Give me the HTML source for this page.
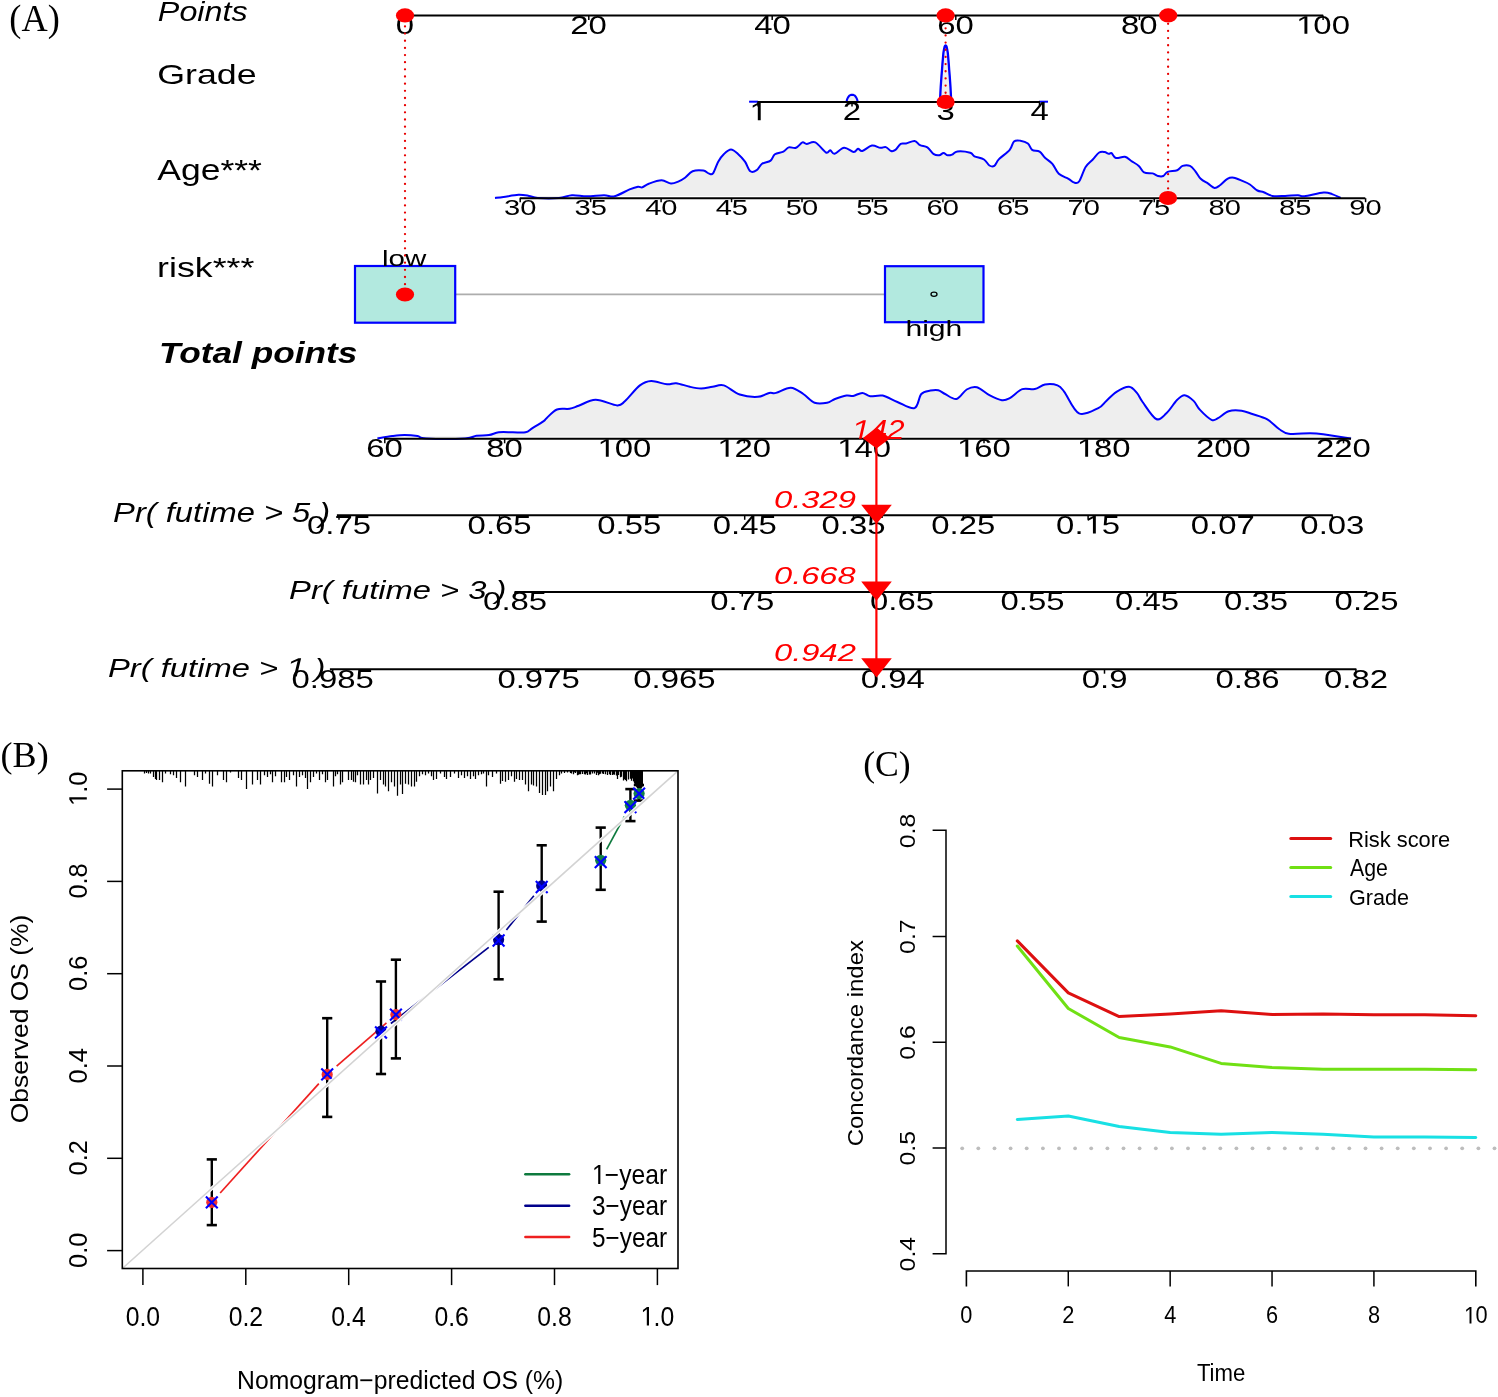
<!DOCTYPE html>
<html><head><meta charset="utf-8"><title>Nomogram figure</title>
<style>html,body{margin:0;padding:0;background:#fff;overflow:hidden;}svg{display:block;will-change:transform;}</style></head>
<body><svg width="1498" height="1397" viewBox="0 0 1498 1397">
<rect width="1498" height="1397" fill="#fff"/>
<text transform="translate(9.37 30.60) scale(0.9804 1)" font-family='"Liberation Serif", serif' font-size="37.03" font-style="normal" font-weight="normal" fill="#000">(A)</text>
<text transform="translate(157.83 21.00) scale(1.1577 1)" font-family='"Liberation Sans", sans-serif' font-size="27.91" font-style="italic" font-weight="normal" fill="#000">Points</text>
<text transform="translate(157.21 84.20) scale(1.2658 1)" font-family='"Liberation Sans", sans-serif' font-size="28.28" font-style="normal" font-weight="normal" fill="#000">Grade</text>
<text transform="translate(157.31 180.40) scale(1.1981 1)" font-family='"Liberation Sans", sans-serif' font-size="29.65" font-style="normal" font-weight="normal" fill="#000">Age***</text>
<text transform="translate(157.09 276.60) scale(1.2707 1)" font-family='"Liberation Sans", sans-serif' font-size="28.14" font-style="normal" font-weight="normal" fill="#000">risk***</text>
<text transform="translate(159.03 362.60) scale(1.2172 1)" font-family='"Liberation Sans", sans-serif' font-size="28.97" font-style="italic" font-weight="bold" fill="#000">Total points</text>
<text transform="translate(113.12 522.20) scale(1.2234 1)" font-family='"Liberation Sans", sans-serif' font-size="26.74" font-style="italic" font-weight="normal" fill="#000">Pr( futime &gt; 5 )</text>
<text transform="translate(289.12 599.40) scale(1.2379 1)" font-family='"Liberation Sans", sans-serif' font-size="26.45" font-style="italic" font-weight="normal" fill="#000">Pr( futime &gt; 3 )</text>
<text transform="translate(108.02 676.50) scale(1.2379 1)" font-family='"Liberation Sans", sans-serif' font-size="26.45" font-style="italic" font-weight="normal" fill="#000">Pr( futime &gt;   )</text>
<path transform="translate(108.02 676.50) scale(1.2379 1) translate(144.80 0) scale(0.01292 -0.01292)" d="M412 0L650 1223L215 985L250 1165L701 1409L867 1409L593 0Z" fill="#000"/>
<path d="M495.00 198.00C496.42 197.83 499.58 197.53 503.50 197.00C507.42 196.47 514.25 194.98 518.50 194.80C522.75 194.62 525.80 195.37 529.00 195.90C532.20 196.43 532.70 197.65 537.70 198.00C542.70 198.35 553.28 198.47 559.00 198.00C564.72 197.53 567.33 195.48 572.00 195.20C576.67 194.92 581.67 196.30 587.00 196.30C592.33 196.30 599.40 195.20 604.00 195.20C608.60 195.20 610.33 197.27 614.60 196.30C618.87 195.33 625.70 191.00 629.60 189.40C633.50 187.80 635.87 187.05 638.00 186.70C640.13 186.35 640.60 187.80 642.40 187.30C644.20 186.80 645.60 184.87 648.80 183.70C652.00 182.53 657.90 180.33 661.60 180.30C665.30 180.27 668.15 183.33 671.00 183.50C673.85 183.67 676.37 182.27 678.70 181.30C681.03 180.33 682.68 179.37 685.00 177.70C687.32 176.03 689.55 172.48 692.60 171.30C695.65 170.12 700.63 170.25 703.30 170.60C705.97 170.95 706.98 172.93 708.60 173.40C710.22 173.87 711.40 175.35 713.00 173.40C714.60 171.45 716.37 164.93 718.20 161.70C720.03 158.47 721.87 156.03 724.00 154.00C726.13 151.97 728.67 149.50 731.00 149.50C733.33 149.50 735.67 151.97 738.00 154.00C740.33 156.03 742.95 158.82 745.00 161.70C747.05 164.58 748.35 169.88 750.30 171.30C752.25 172.72 754.75 171.45 756.70 170.20C758.65 168.95 759.68 165.40 762.00 163.80C764.32 162.20 768.45 162.20 770.60 160.60C772.75 159.00 772.77 155.70 774.90 154.20C777.03 152.70 781.08 152.73 783.40 151.60C785.72 150.47 786.70 148.03 788.80 147.40C790.90 146.77 793.73 148.63 796.00 147.80C798.27 146.97 800.62 143.05 802.40 142.40C804.18 141.75 804.55 143.90 806.70 143.90C808.85 143.90 812.08 140.97 815.30 142.40C818.52 143.83 823.52 151.18 826.00 152.50C828.48 153.82 828.78 150.08 830.20 150.30C831.62 150.52 832.18 154.22 834.50 153.80C836.82 153.38 840.90 148.10 844.10 147.80C847.30 147.50 851.38 151.83 853.70 152.00C856.02 152.17 856.57 148.97 858.00 148.80C859.43 148.63 859.98 151.53 862.30 151.00C864.62 150.47 868.88 146.13 871.90 145.60C874.92 145.07 878.08 147.55 880.40 147.80C882.72 148.05 884.02 146.57 885.80 147.10C887.58 147.63 889.50 150.53 891.10 151.00C892.70 151.47 893.80 151.08 895.40 149.90C897.00 148.72 898.93 144.97 900.70 143.90C902.47 142.83 903.68 144.00 906.00 143.50C908.32 143.00 912.27 140.62 914.60 140.90C916.93 141.18 917.87 144.12 920.00 145.20C922.13 146.28 925.10 145.90 927.40 147.40C929.70 148.90 931.83 152.88 933.80 154.20C935.77 155.52 937.58 155.48 939.20 155.30C940.82 155.12 942.08 153.10 943.50 153.10C944.92 153.10 946.28 155.05 947.70 155.30C949.12 155.55 950.38 155.25 952.00 154.60C953.62 153.95 954.37 151.72 957.40 151.40C960.43 151.08 967.37 151.88 970.20 152.70C973.03 153.52 972.10 155.17 974.40 156.30C976.70 157.43 981.50 157.97 984.00 159.50C986.50 161.03 987.68 164.43 989.40 165.50C991.12 166.57 992.70 166.97 994.30 165.90C995.90 164.83 996.43 161.77 999.00 159.10C1001.57 156.43 1007.20 152.85 1009.70 149.90C1012.20 146.95 1012.22 142.93 1014.00 141.40C1015.78 139.87 1018.08 140.35 1020.40 140.70C1022.72 141.05 1025.95 141.97 1027.90 143.50C1029.85 145.03 1030.15 148.55 1032.10 149.90C1034.05 151.25 1037.45 150.28 1039.60 151.60C1041.75 152.92 1042.87 155.77 1045.00 157.80C1047.13 159.83 1050.10 161.13 1052.40 163.80C1054.70 166.47 1056.12 171.30 1058.80 173.80C1061.48 176.30 1066.00 177.37 1068.50 178.80C1071.00 180.23 1072.03 181.95 1073.80 182.40C1075.57 182.85 1077.13 184.07 1079.10 181.50C1081.07 178.93 1083.32 170.67 1085.60 167.00C1087.88 163.33 1090.53 161.92 1092.80 159.50C1095.07 157.08 1097.23 153.75 1099.20 152.50C1101.17 151.25 1103.00 151.78 1104.60 152.00C1106.20 152.22 1107.63 153.62 1108.80 153.80C1109.97 153.98 1110.42 152.40 1111.60 153.10C1112.78 153.80 1113.68 157.38 1115.90 158.00C1118.12 158.62 1122.33 156.30 1124.90 156.80C1127.47 157.30 1128.98 159.48 1131.30 161.00C1133.62 162.52 1136.67 164.00 1138.80 165.90C1140.93 167.80 1141.80 171.15 1144.10 172.40C1146.40 173.65 1150.28 172.80 1152.60 173.40C1154.92 174.00 1156.22 175.57 1158.00 176.00C1159.78 176.43 1161.70 176.68 1163.30 176.00C1164.90 175.32 1165.28 172.87 1167.60 171.90C1169.92 170.93 1174.70 171.20 1177.20 170.20C1179.70 169.20 1180.47 166.62 1182.60 165.90C1184.73 165.18 1187.87 165.00 1190.00 165.90C1192.13 166.80 1193.62 169.15 1195.40 171.30C1197.18 173.45 1198.57 176.73 1200.70 178.80C1202.83 180.87 1205.88 182.18 1208.20 183.70C1210.52 185.22 1212.63 187.65 1214.60 187.90C1216.57 188.15 1217.87 186.72 1220.00 185.20C1222.13 183.68 1225.10 180.05 1227.40 178.80C1229.70 177.55 1231.30 177.35 1233.80 177.70C1236.30 178.05 1239.72 179.77 1242.40 180.90C1245.08 182.03 1247.40 182.90 1249.90 184.50C1252.40 186.10 1255.08 189.22 1257.40 190.50C1259.72 191.78 1261.32 191.30 1263.80 192.20C1266.28 193.10 1268.75 195.28 1272.30 195.90C1275.85 196.52 1280.82 196.02 1285.10 195.90C1289.38 195.78 1294.78 195.13 1298.00 195.20C1301.22 195.27 1300.13 196.73 1304.40 196.30C1308.67 195.87 1318.98 192.97 1323.60 192.60C1328.22 192.23 1329.25 193.20 1332.10 194.10C1334.95 195.00 1339.27 197.35 1340.70 198.00 L1340.70 196.00 L495.00 196.00 Z" fill="#eeeeee" stroke="none"/>
<path d="M495.00 198.00C496.42 197.83 499.58 197.53 503.50 197.00C507.42 196.47 514.25 194.98 518.50 194.80C522.75 194.62 525.80 195.37 529.00 195.90C532.20 196.43 532.70 197.65 537.70 198.00C542.70 198.35 553.28 198.47 559.00 198.00C564.72 197.53 567.33 195.48 572.00 195.20C576.67 194.92 581.67 196.30 587.00 196.30C592.33 196.30 599.40 195.20 604.00 195.20C608.60 195.20 610.33 197.27 614.60 196.30C618.87 195.33 625.70 191.00 629.60 189.40C633.50 187.80 635.87 187.05 638.00 186.70C640.13 186.35 640.60 187.80 642.40 187.30C644.20 186.80 645.60 184.87 648.80 183.70C652.00 182.53 657.90 180.33 661.60 180.30C665.30 180.27 668.15 183.33 671.00 183.50C673.85 183.67 676.37 182.27 678.70 181.30C681.03 180.33 682.68 179.37 685.00 177.70C687.32 176.03 689.55 172.48 692.60 171.30C695.65 170.12 700.63 170.25 703.30 170.60C705.97 170.95 706.98 172.93 708.60 173.40C710.22 173.87 711.40 175.35 713.00 173.40C714.60 171.45 716.37 164.93 718.20 161.70C720.03 158.47 721.87 156.03 724.00 154.00C726.13 151.97 728.67 149.50 731.00 149.50C733.33 149.50 735.67 151.97 738.00 154.00C740.33 156.03 742.95 158.82 745.00 161.70C747.05 164.58 748.35 169.88 750.30 171.30C752.25 172.72 754.75 171.45 756.70 170.20C758.65 168.95 759.68 165.40 762.00 163.80C764.32 162.20 768.45 162.20 770.60 160.60C772.75 159.00 772.77 155.70 774.90 154.20C777.03 152.70 781.08 152.73 783.40 151.60C785.72 150.47 786.70 148.03 788.80 147.40C790.90 146.77 793.73 148.63 796.00 147.80C798.27 146.97 800.62 143.05 802.40 142.40C804.18 141.75 804.55 143.90 806.70 143.90C808.85 143.90 812.08 140.97 815.30 142.40C818.52 143.83 823.52 151.18 826.00 152.50C828.48 153.82 828.78 150.08 830.20 150.30C831.62 150.52 832.18 154.22 834.50 153.80C836.82 153.38 840.90 148.10 844.10 147.80C847.30 147.50 851.38 151.83 853.70 152.00C856.02 152.17 856.57 148.97 858.00 148.80C859.43 148.63 859.98 151.53 862.30 151.00C864.62 150.47 868.88 146.13 871.90 145.60C874.92 145.07 878.08 147.55 880.40 147.80C882.72 148.05 884.02 146.57 885.80 147.10C887.58 147.63 889.50 150.53 891.10 151.00C892.70 151.47 893.80 151.08 895.40 149.90C897.00 148.72 898.93 144.97 900.70 143.90C902.47 142.83 903.68 144.00 906.00 143.50C908.32 143.00 912.27 140.62 914.60 140.90C916.93 141.18 917.87 144.12 920.00 145.20C922.13 146.28 925.10 145.90 927.40 147.40C929.70 148.90 931.83 152.88 933.80 154.20C935.77 155.52 937.58 155.48 939.20 155.30C940.82 155.12 942.08 153.10 943.50 153.10C944.92 153.10 946.28 155.05 947.70 155.30C949.12 155.55 950.38 155.25 952.00 154.60C953.62 153.95 954.37 151.72 957.40 151.40C960.43 151.08 967.37 151.88 970.20 152.70C973.03 153.52 972.10 155.17 974.40 156.30C976.70 157.43 981.50 157.97 984.00 159.50C986.50 161.03 987.68 164.43 989.40 165.50C991.12 166.57 992.70 166.97 994.30 165.90C995.90 164.83 996.43 161.77 999.00 159.10C1001.57 156.43 1007.20 152.85 1009.70 149.90C1012.20 146.95 1012.22 142.93 1014.00 141.40C1015.78 139.87 1018.08 140.35 1020.40 140.70C1022.72 141.05 1025.95 141.97 1027.90 143.50C1029.85 145.03 1030.15 148.55 1032.10 149.90C1034.05 151.25 1037.45 150.28 1039.60 151.60C1041.75 152.92 1042.87 155.77 1045.00 157.80C1047.13 159.83 1050.10 161.13 1052.40 163.80C1054.70 166.47 1056.12 171.30 1058.80 173.80C1061.48 176.30 1066.00 177.37 1068.50 178.80C1071.00 180.23 1072.03 181.95 1073.80 182.40C1075.57 182.85 1077.13 184.07 1079.10 181.50C1081.07 178.93 1083.32 170.67 1085.60 167.00C1087.88 163.33 1090.53 161.92 1092.80 159.50C1095.07 157.08 1097.23 153.75 1099.20 152.50C1101.17 151.25 1103.00 151.78 1104.60 152.00C1106.20 152.22 1107.63 153.62 1108.80 153.80C1109.97 153.98 1110.42 152.40 1111.60 153.10C1112.78 153.80 1113.68 157.38 1115.90 158.00C1118.12 158.62 1122.33 156.30 1124.90 156.80C1127.47 157.30 1128.98 159.48 1131.30 161.00C1133.62 162.52 1136.67 164.00 1138.80 165.90C1140.93 167.80 1141.80 171.15 1144.10 172.40C1146.40 173.65 1150.28 172.80 1152.60 173.40C1154.92 174.00 1156.22 175.57 1158.00 176.00C1159.78 176.43 1161.70 176.68 1163.30 176.00C1164.90 175.32 1165.28 172.87 1167.60 171.90C1169.92 170.93 1174.70 171.20 1177.20 170.20C1179.70 169.20 1180.47 166.62 1182.60 165.90C1184.73 165.18 1187.87 165.00 1190.00 165.90C1192.13 166.80 1193.62 169.15 1195.40 171.30C1197.18 173.45 1198.57 176.73 1200.70 178.80C1202.83 180.87 1205.88 182.18 1208.20 183.70C1210.52 185.22 1212.63 187.65 1214.60 187.90C1216.57 188.15 1217.87 186.72 1220.00 185.20C1222.13 183.68 1225.10 180.05 1227.40 178.80C1229.70 177.55 1231.30 177.35 1233.80 177.70C1236.30 178.05 1239.72 179.77 1242.40 180.90C1245.08 182.03 1247.40 182.90 1249.90 184.50C1252.40 186.10 1255.08 189.22 1257.40 190.50C1259.72 191.78 1261.32 191.30 1263.80 192.20C1266.28 193.10 1268.75 195.28 1272.30 195.90C1275.85 196.52 1280.82 196.02 1285.10 195.90C1289.38 195.78 1294.78 195.13 1298.00 195.20C1301.22 195.27 1300.13 196.73 1304.40 196.30C1308.67 195.87 1318.98 192.97 1323.60 192.60C1328.22 192.23 1329.25 193.20 1332.10 194.10C1334.95 195.00 1339.27 197.35 1340.70 198.00" fill="none" stroke="#0000ff" stroke-width="2.0" stroke-linejoin="round"/>
<path d="M377.40 438.50C379.88 438.08 387.78 436.60 392.30 436.00C396.82 435.40 400.30 434.90 404.50 434.90C408.70 434.90 413.92 435.40 417.50 436.00C421.08 436.60 418.05 438.08 426.00 438.50C433.95 438.92 456.80 438.97 465.20 438.50C473.60 438.03 472.43 436.27 476.40 435.70C480.37 435.13 485.27 435.67 489.00 435.10C492.73 434.53 494.82 432.77 498.80 432.30C502.78 431.83 508.45 432.30 512.90 432.30C517.35 432.30 522.23 433.00 525.50 432.30C528.77 431.60 529.47 429.97 532.50 428.10C535.53 426.23 541.32 422.80 543.70 421.10C546.08 419.40 544.58 419.83 546.80 417.90C549.02 415.97 553.22 411.02 557.00 409.50C560.78 407.98 565.90 409.42 569.50 408.80C573.10 408.18 574.25 407.32 578.60 405.80C582.95 404.28 589.17 399.77 595.60 399.70C602.03 399.63 612.28 405.20 617.20 405.40C622.12 405.60 621.32 404.23 625.10 400.90C628.88 397.57 635.55 388.70 639.90 385.40C644.25 382.10 646.67 381.28 651.20 381.10C655.73 380.92 662.93 383.95 667.10 384.30C671.27 384.65 672.42 382.78 676.20 383.20C679.98 383.62 685.65 385.93 689.80 386.80C693.95 387.67 697.32 388.40 701.10 388.40C704.88 388.40 708.72 387.30 712.50 386.80C716.28 386.30 719.27 384.12 723.80 385.40C728.33 386.68 734.02 392.60 739.70 394.50C745.38 396.40 752.98 397.07 757.90 396.80C762.82 396.53 766.18 393.55 769.20 392.90C772.22 392.25 772.40 393.77 776.00 392.90C779.60 392.03 786.25 387.52 790.80 387.70C795.35 387.88 799.33 391.50 803.30 394.00C807.27 396.50 810.63 401.25 814.60 402.70C818.57 404.15 823.70 403.32 827.10 402.70C830.50 402.08 831.78 400.18 835.00 399.00C838.22 397.82 843.37 396.12 846.40 395.60C849.43 395.08 850.55 396.35 853.20 395.90C855.85 395.45 859.47 392.83 862.30 392.90C865.13 392.97 866.80 395.85 870.20 396.30C873.60 396.75 878.17 394.65 882.70 395.60C887.23 396.55 892.10 399.92 897.40 402.00C902.70 404.08 910.52 409.43 914.50 408.10C918.48 406.77 918.65 396.92 921.30 394.00C923.95 391.08 927.57 391.23 930.40 390.60C933.23 389.97 935.85 389.63 938.30 390.20C940.75 390.77 942.07 392.53 945.10 394.00C948.13 395.47 952.90 399.75 956.50 399.00C960.10 398.25 963.30 391.47 966.70 389.50C970.10 387.53 973.12 386.25 976.90 387.20C980.68 388.15 985.23 393.03 989.40 395.20C993.57 397.37 998.50 399.72 1001.90 400.20C1005.30 400.68 1006.40 399.95 1009.80 398.10C1013.20 396.25 1018.13 390.60 1022.30 389.10C1026.47 387.60 1031.02 389.87 1034.80 389.10C1038.58 388.33 1041.22 385.12 1045.00 384.50C1048.78 383.88 1054.28 384.18 1057.50 385.40C1060.72 386.62 1060.72 387.15 1064.30 391.80C1067.88 396.45 1073.33 410.58 1079.00 413.30C1084.67 416.02 1093.75 410.17 1098.30 408.10C1102.85 406.03 1103.27 403.62 1106.30 400.90C1109.33 398.18 1112.72 394.15 1116.50 391.80C1120.28 389.45 1125.60 386.62 1129.00 386.80C1132.40 386.98 1134.63 390.37 1136.90 392.90C1139.17 395.43 1139.38 397.65 1142.60 402.00C1145.82 406.35 1152.23 417.12 1156.20 419.00C1160.17 420.88 1162.93 416.47 1166.40 413.30C1169.87 410.13 1173.97 403.02 1177.00 400.00C1180.03 396.98 1181.83 395.05 1184.60 395.20C1187.37 395.35 1191.03 398.45 1193.60 400.90C1196.17 403.35 1197.02 406.75 1200.00 409.90C1202.98 413.05 1208.50 418.42 1211.50 419.80C1214.50 421.18 1215.13 419.63 1218.00 418.20C1220.87 416.77 1224.77 412.45 1228.70 411.20C1232.63 409.95 1237.67 410.23 1241.60 410.70C1245.53 411.17 1248.02 412.57 1252.30 414.00C1256.58 415.43 1262.83 416.80 1267.30 419.30C1271.77 421.80 1275.52 426.60 1279.10 429.00C1282.68 431.40 1283.60 432.98 1288.80 433.70C1294.00 434.42 1304.57 433.20 1310.30 433.30C1316.03 433.40 1316.40 433.42 1323.20 434.30C1330.00 435.18 1346.45 437.88 1351.10 438.60 L1351.10 436.60 L377.40 436.60 Z" fill="#eeeeee" stroke="none"/>
<path d="M377.40 438.50C379.88 438.08 387.78 436.60 392.30 436.00C396.82 435.40 400.30 434.90 404.50 434.90C408.70 434.90 413.92 435.40 417.50 436.00C421.08 436.60 418.05 438.08 426.00 438.50C433.95 438.92 456.80 438.97 465.20 438.50C473.60 438.03 472.43 436.27 476.40 435.70C480.37 435.13 485.27 435.67 489.00 435.10C492.73 434.53 494.82 432.77 498.80 432.30C502.78 431.83 508.45 432.30 512.90 432.30C517.35 432.30 522.23 433.00 525.50 432.30C528.77 431.60 529.47 429.97 532.50 428.10C535.53 426.23 541.32 422.80 543.70 421.10C546.08 419.40 544.58 419.83 546.80 417.90C549.02 415.97 553.22 411.02 557.00 409.50C560.78 407.98 565.90 409.42 569.50 408.80C573.10 408.18 574.25 407.32 578.60 405.80C582.95 404.28 589.17 399.77 595.60 399.70C602.03 399.63 612.28 405.20 617.20 405.40C622.12 405.60 621.32 404.23 625.10 400.90C628.88 397.57 635.55 388.70 639.90 385.40C644.25 382.10 646.67 381.28 651.20 381.10C655.73 380.92 662.93 383.95 667.10 384.30C671.27 384.65 672.42 382.78 676.20 383.20C679.98 383.62 685.65 385.93 689.80 386.80C693.95 387.67 697.32 388.40 701.10 388.40C704.88 388.40 708.72 387.30 712.50 386.80C716.28 386.30 719.27 384.12 723.80 385.40C728.33 386.68 734.02 392.60 739.70 394.50C745.38 396.40 752.98 397.07 757.90 396.80C762.82 396.53 766.18 393.55 769.20 392.90C772.22 392.25 772.40 393.77 776.00 392.90C779.60 392.03 786.25 387.52 790.80 387.70C795.35 387.88 799.33 391.50 803.30 394.00C807.27 396.50 810.63 401.25 814.60 402.70C818.57 404.15 823.70 403.32 827.10 402.70C830.50 402.08 831.78 400.18 835.00 399.00C838.22 397.82 843.37 396.12 846.40 395.60C849.43 395.08 850.55 396.35 853.20 395.90C855.85 395.45 859.47 392.83 862.30 392.90C865.13 392.97 866.80 395.85 870.20 396.30C873.60 396.75 878.17 394.65 882.70 395.60C887.23 396.55 892.10 399.92 897.40 402.00C902.70 404.08 910.52 409.43 914.50 408.10C918.48 406.77 918.65 396.92 921.30 394.00C923.95 391.08 927.57 391.23 930.40 390.60C933.23 389.97 935.85 389.63 938.30 390.20C940.75 390.77 942.07 392.53 945.10 394.00C948.13 395.47 952.90 399.75 956.50 399.00C960.10 398.25 963.30 391.47 966.70 389.50C970.10 387.53 973.12 386.25 976.90 387.20C980.68 388.15 985.23 393.03 989.40 395.20C993.57 397.37 998.50 399.72 1001.90 400.20C1005.30 400.68 1006.40 399.95 1009.80 398.10C1013.20 396.25 1018.13 390.60 1022.30 389.10C1026.47 387.60 1031.02 389.87 1034.80 389.10C1038.58 388.33 1041.22 385.12 1045.00 384.50C1048.78 383.88 1054.28 384.18 1057.50 385.40C1060.72 386.62 1060.72 387.15 1064.30 391.80C1067.88 396.45 1073.33 410.58 1079.00 413.30C1084.67 416.02 1093.75 410.17 1098.30 408.10C1102.85 406.03 1103.27 403.62 1106.30 400.90C1109.33 398.18 1112.72 394.15 1116.50 391.80C1120.28 389.45 1125.60 386.62 1129.00 386.80C1132.40 386.98 1134.63 390.37 1136.90 392.90C1139.17 395.43 1139.38 397.65 1142.60 402.00C1145.82 406.35 1152.23 417.12 1156.20 419.00C1160.17 420.88 1162.93 416.47 1166.40 413.30C1169.87 410.13 1173.97 403.02 1177.00 400.00C1180.03 396.98 1181.83 395.05 1184.60 395.20C1187.37 395.35 1191.03 398.45 1193.60 400.90C1196.17 403.35 1197.02 406.75 1200.00 409.90C1202.98 413.05 1208.50 418.42 1211.50 419.80C1214.50 421.18 1215.13 419.63 1218.00 418.20C1220.87 416.77 1224.77 412.45 1228.70 411.20C1232.63 409.95 1237.67 410.23 1241.60 410.70C1245.53 411.17 1248.02 412.57 1252.30 414.00C1256.58 415.43 1262.83 416.80 1267.30 419.30C1271.77 421.80 1275.52 426.60 1279.10 429.00C1282.68 431.40 1283.60 432.98 1288.80 433.70C1294.00 434.42 1304.57 433.20 1310.30 433.30C1316.03 433.40 1316.40 433.42 1323.20 434.30C1330.00 435.18 1346.45 437.88 1351.10 438.60" fill="none" stroke="#0000ff" stroke-width="2.0" stroke-linejoin="round"/>
<polyline points="939.7,102.0 940.1,98.7 940.4,93.0 940.7,87.3 941.1,81.5 941.5,75.8 942.0,70.0 942.4,64.4 942.9,58.6 943.4,52.9 944.0,49.5 944.6,46.8 945.1,45.7 945.6,45.4 946.1,45.7 946.6,46.8 947.2,49.5 947.8,52.9 948.3,58.6 948.8,64.4 949.2,70.0 949.7,75.8 950.1,81.5 950.5,87.3 950.8,93.0 951.1,98.7 951.5,102.0 939.7,102.0" stroke="none" fill="#eeeeee" stroke-width="1.50" stroke-linejoin="round" />
<polyline points="939.7,102.0 940.1,98.7 940.4,93.0 940.7,87.3 941.1,81.5 941.5,75.8 942.0,70.0 942.4,64.4 942.9,58.6 943.4,52.9 944.0,49.5 944.6,46.8 945.1,45.7 945.6,45.4 946.1,45.7 946.6,46.8 947.2,49.5 947.8,52.9 948.3,58.6 948.8,64.4 949.2,70.0 949.7,75.8 950.1,81.5 950.5,87.3 950.8,93.0 951.1,98.7 951.5,102.0" stroke="#0000ff" fill="none" stroke-width="2.30" stroke-linejoin="round" />
<polyline points="846.5,102.0 846.7,101.0 847.2,99.1 847.9,97.6 848.8,96.3 849.8,95.4 850.9,94.9 852.1,94.8 853.3,94.9 854.4,95.4 855.4,96.3 856.3,97.6 857.0,99.1 857.5,101.0 857.7,102.0 846.5,102.0" stroke="none" fill="#eeeeee" stroke-width="1.50" stroke-linejoin="round" />
<polyline points="846.5,102.0 846.7,101.0 847.2,99.1 847.9,97.6 848.8,96.3 849.8,95.4 850.9,94.9 852.1,94.8 853.3,94.9 854.4,95.4 855.4,96.3 856.3,97.6 857.0,99.1 857.5,101.0 857.7,102.0" stroke="#0000ff" fill="none" stroke-width="2.10" stroke-linejoin="round" />
<line x1="749.10" y1="101.70" x2="758.00" y2="101.70" stroke="#0000ff" stroke-width="2.00" />
<line x1="1039.00" y1="101.70" x2="1048.00" y2="101.70" stroke="#0000ff" stroke-width="2.00" />
<line x1="405.00" y1="15.50" x2="1323.20" y2="15.50" stroke="#000" stroke-width="2.00" />
<line x1="757.50" y1="102.00" x2="1040.00" y2="102.00" stroke="#000" stroke-width="2.00" />
<line x1="519.80" y1="198.20" x2="1365.30" y2="198.20" stroke="#000" stroke-width="2.00" />
<line x1="384.00" y1="438.80" x2="1351.00" y2="438.80" stroke="#000" stroke-width="2.00" />
<line x1="336.90" y1="515.30" x2="1332.80" y2="515.30" stroke="#000" stroke-width="2.00" />
<line x1="514.50" y1="592.10" x2="1367.20" y2="592.10" stroke="#000" stroke-width="2.00" />
<line x1="329.90" y1="669.20" x2="1356.40" y2="669.20" stroke="#000" stroke-width="2.00" />
<text transform="translate(395.83 33.80) scale(1.3000 1)" font-family='"Liberation Sans", sans-serif' font-size="25.30" font-style="normal" font-weight="normal" fill="#000">0</text>
<line x1="405.00" y1="15.50" x2="405.00" y2="20.00" stroke="#000" stroke-width="1.50" />
<text transform="translate(570.34 33.80) scale(1.3000 1)" font-family='"Liberation Sans", sans-serif' font-size="25.30" font-style="normal" font-weight="normal" fill="#000">20</text>
<line x1="588.80" y1="15.50" x2="588.80" y2="20.00" stroke="#000" stroke-width="1.50" />
<text transform="translate(754.19 33.80) scale(1.3000 1)" font-family='"Liberation Sans", sans-serif' font-size="25.30" font-style="normal" font-weight="normal" fill="#000">40</text>
<line x1="772.20" y1="15.50" x2="772.20" y2="20.00" stroke="#000" stroke-width="1.50" />
<text transform="translate(937.34 33.80) scale(1.3000 1)" font-family='"Liberation Sans", sans-serif' font-size="25.30" font-style="normal" font-weight="normal" fill="#000">60</text>
<line x1="955.80" y1="15.50" x2="955.80" y2="20.00" stroke="#000" stroke-width="1.50" />
<text transform="translate(1121.06 33.80) scale(1.3000 1)" font-family='"Liberation Sans", sans-serif' font-size="25.30" font-style="normal" font-weight="normal" fill="#000">80</text>
<line x1="1139.40" y1="15.50" x2="1139.40" y2="20.00" stroke="#000" stroke-width="1.50" />
<text transform="translate(1295.06 33.80) scale(1.3000 1)" font-family='"Liberation Sans", sans-serif' font-size="25.30" font-style="normal" font-weight="normal" fill="#000"> 00</text>
<path transform="translate(1295.06 33.80) scale(1.3000 1) translate(0.00 0) scale(0.01235 -0.01235)" d="M585 0L585 1250L267 1025L267 1195L600 1425L766 1425L766 0Z" fill="#000"/>
<line x1="1323.10" y1="15.50" x2="1323.10" y2="20.00" stroke="#000" stroke-width="1.50" />
<text transform="translate(748.42 120.30) scale(1.3000 1)" font-family='"Liberation Sans", sans-serif' font-size="25.30" font-style="normal" font-weight="normal" fill="#000"> </text>
<path transform="translate(748.42 120.30) scale(1.3000 1) translate(0.00 0) scale(0.01235 -0.01235)" d="M585 0L585 1250L267 1025L267 1195L600 1425L766 1425L766 0Z" fill="#000"/>
<line x1="758.00" y1="102.00" x2="758.00" y2="106.50" stroke="#000" stroke-width="1.50" />
<text transform="translate(842.87 120.30) scale(1.3000 1)" font-family='"Liberation Sans", sans-serif' font-size="25.30" font-style="normal" font-weight="normal" fill="#000">2</text>
<line x1="852.00" y1="102.00" x2="852.00" y2="106.50" stroke="#000" stroke-width="1.50" />
<text transform="translate(936.56 120.30) scale(1.3000 1)" font-family='"Liberation Sans", sans-serif' font-size="25.30" font-style="normal" font-weight="normal" fill="#000">3</text>
<line x1="945.60" y1="102.00" x2="945.60" y2="106.50" stroke="#000" stroke-width="1.50" />
<text transform="translate(1030.46 120.30) scale(1.3000 1)" font-family='"Liberation Sans", sans-serif' font-size="25.30" font-style="normal" font-weight="normal" fill="#000">4</text>
<line x1="1039.50" y1="102.00" x2="1039.50" y2="106.50" stroke="#000" stroke-width="1.50" />
<text transform="translate(504.06 215.40) scale(1.2700 1)" font-family='"Liberation Sans", sans-serif' font-size="22.90" font-style="normal" font-weight="normal" fill="#000">30</text>
<line x1="520.20" y1="198.20" x2="520.20" y2="202.20" stroke="#000" stroke-width="1.50" />
<text transform="translate(574.55 215.40) scale(1.2700 1)" font-family='"Liberation Sans", sans-serif' font-size="22.90" font-style="normal" font-weight="normal" fill="#000">35</text>
<line x1="590.65" y1="198.20" x2="590.65" y2="202.20" stroke="#000" stroke-width="1.50" />
<text transform="translate(645.18 215.40) scale(1.2700 1)" font-family='"Liberation Sans", sans-serif' font-size="22.90" font-style="normal" font-weight="normal" fill="#000">40</text>
<line x1="661.10" y1="198.20" x2="661.10" y2="202.20" stroke="#000" stroke-width="1.50" />
<text transform="translate(715.66 215.40) scale(1.2700 1)" font-family='"Liberation Sans", sans-serif' font-size="22.90" font-style="normal" font-weight="normal" fill="#000">45</text>
<line x1="731.55" y1="198.20" x2="731.55" y2="202.20" stroke="#000" stroke-width="1.50" />
<text transform="translate(785.82 215.40) scale(1.2700 1)" font-family='"Liberation Sans", sans-serif' font-size="22.90" font-style="normal" font-weight="normal" fill="#000">50</text>
<line x1="802.00" y1="198.20" x2="802.00" y2="202.20" stroke="#000" stroke-width="1.50" />
<text transform="translate(856.31 215.40) scale(1.2700 1)" font-family='"Liberation Sans", sans-serif' font-size="22.90" font-style="normal" font-weight="normal" fill="#000">55</text>
<line x1="872.45" y1="198.20" x2="872.45" y2="202.20" stroke="#000" stroke-width="1.50" />
<text transform="translate(926.58 215.40) scale(1.2700 1)" font-family='"Liberation Sans", sans-serif' font-size="22.90" font-style="normal" font-weight="normal" fill="#000">60</text>
<line x1="942.90" y1="198.20" x2="942.90" y2="202.20" stroke="#000" stroke-width="1.50" />
<text transform="translate(997.06 215.40) scale(1.2700 1)" font-family='"Liberation Sans", sans-serif' font-size="22.90" font-style="normal" font-weight="normal" fill="#000">65</text>
<line x1="1013.35" y1="198.20" x2="1013.35" y2="202.20" stroke="#000" stroke-width="1.50" />
<text transform="translate(1067.48 215.40) scale(1.2700 1)" font-family='"Liberation Sans", sans-serif' font-size="22.90" font-style="normal" font-weight="normal" fill="#000">70</text>
<line x1="1083.80" y1="198.20" x2="1083.80" y2="202.20" stroke="#000" stroke-width="1.50" />
<text transform="translate(1137.96 215.40) scale(1.2700 1)" font-family='"Liberation Sans", sans-serif' font-size="22.90" font-style="normal" font-weight="normal" fill="#000">75</text>
<line x1="1154.25" y1="198.20" x2="1154.25" y2="202.20" stroke="#000" stroke-width="1.50" />
<text transform="translate(1208.49 215.40) scale(1.2700 1)" font-family='"Liberation Sans", sans-serif' font-size="22.90" font-style="normal" font-weight="normal" fill="#000">80</text>
<line x1="1224.70" y1="198.20" x2="1224.70" y2="202.20" stroke="#000" stroke-width="1.50" />
<text transform="translate(1278.97 215.40) scale(1.2700 1)" font-family='"Liberation Sans", sans-serif' font-size="22.90" font-style="normal" font-weight="normal" fill="#000">85</text>
<line x1="1295.15" y1="198.20" x2="1295.15" y2="202.20" stroke="#000" stroke-width="1.50" />
<text transform="translate(1349.31 215.40) scale(1.2700 1)" font-family='"Liberation Sans", sans-serif' font-size="22.90" font-style="normal" font-weight="normal" fill="#000">90</text>
<line x1="1365.60" y1="198.20" x2="1365.60" y2="202.20" stroke="#000" stroke-width="1.50" />
<text transform="translate(366.34 456.80) scale(1.3000 1)" font-family='"Liberation Sans", sans-serif' font-size="25.30" font-style="normal" font-weight="normal" fill="#000">60</text>
<line x1="384.80" y1="438.80" x2="384.80" y2="443.30" stroke="#000" stroke-width="1.50" />
<text transform="translate(486.30 456.80) scale(1.3000 1)" font-family='"Liberation Sans", sans-serif' font-size="25.30" font-style="normal" font-weight="normal" fill="#000">80</text>
<line x1="504.64" y1="438.80" x2="504.64" y2="443.30" stroke="#000" stroke-width="1.50" />
<text transform="translate(596.44 456.80) scale(1.3000 1)" font-family='"Liberation Sans", sans-serif' font-size="25.30" font-style="normal" font-weight="normal" fill="#000"> 00</text>
<path transform="translate(596.44 456.80) scale(1.3000 1) translate(0.00 0) scale(0.01235 -0.01235)" d="M585 0L585 1250L267 1025L267 1195L600 1425L766 1425L766 0Z" fill="#000"/>
<line x1="624.48" y1="438.80" x2="624.48" y2="443.30" stroke="#000" stroke-width="1.50" />
<text transform="translate(716.28 456.80) scale(1.3000 1)" font-family='"Liberation Sans", sans-serif' font-size="25.30" font-style="normal" font-weight="normal" fill="#000"> 20</text>
<path transform="translate(716.28 456.80) scale(1.3000 1) translate(0.00 0) scale(0.01235 -0.01235)" d="M585 0L585 1250L267 1025L267 1195L600 1425L766 1425L766 0Z" fill="#000"/>
<line x1="744.32" y1="438.80" x2="744.32" y2="443.30" stroke="#000" stroke-width="1.50" />
<text transform="translate(836.12 456.80) scale(1.3000 1)" font-family='"Liberation Sans", sans-serif' font-size="25.30" font-style="normal" font-weight="normal" fill="#000"> 40</text>
<path transform="translate(836.12 456.80) scale(1.3000 1) translate(0.00 0) scale(0.01235 -0.01235)" d="M585 0L585 1250L267 1025L267 1195L600 1425L766 1425L766 0Z" fill="#000"/>
<line x1="864.16" y1="438.80" x2="864.16" y2="443.30" stroke="#000" stroke-width="1.50" />
<text transform="translate(955.96 456.80) scale(1.3000 1)" font-family='"Liberation Sans", sans-serif' font-size="25.30" font-style="normal" font-weight="normal" fill="#000"> 60</text>
<path transform="translate(955.96 456.80) scale(1.3000 1) translate(0.00 0) scale(0.01235 -0.01235)" d="M585 0L585 1250L267 1025L267 1195L600 1425L766 1425L766 0Z" fill="#000"/>
<line x1="984.00" y1="438.80" x2="984.00" y2="443.30" stroke="#000" stroke-width="1.50" />
<text transform="translate(1075.80 456.80) scale(1.3000 1)" font-family='"Liberation Sans", sans-serif' font-size="25.30" font-style="normal" font-weight="normal" fill="#000"> 80</text>
<path transform="translate(1075.80 456.80) scale(1.3000 1) translate(0.00 0) scale(0.01235 -0.01235)" d="M585 0L585 1250L267 1025L267 1195L600 1425L766 1425L766 0Z" fill="#000"/>
<line x1="1103.84" y1="438.80" x2="1103.84" y2="443.30" stroke="#000" stroke-width="1.50" />
<text transform="translate(1196.05 456.80) scale(1.3000 1)" font-family='"Liberation Sans", sans-serif' font-size="25.30" font-style="normal" font-weight="normal" fill="#000">200</text>
<line x1="1223.68" y1="438.80" x2="1223.68" y2="443.30" stroke="#000" stroke-width="1.50" />
<text transform="translate(1315.89 456.80) scale(1.3000 1)" font-family='"Liberation Sans", sans-serif' font-size="25.30" font-style="normal" font-weight="normal" fill="#000">220</text>
<line x1="1343.52" y1="438.80" x2="1343.52" y2="443.30" stroke="#000" stroke-width="1.50" />
<text transform="translate(307.01 533.60) scale(1.3000 1)" font-family='"Liberation Sans", sans-serif' font-size="25.30" font-style="normal" font-weight="normal" fill="#000">0.75</text>
<line x1="339.00" y1="515.30" x2="339.00" y2="519.80" stroke="#000" stroke-width="1.50" />
<text transform="translate(467.61 533.60) scale(1.3000 1)" font-family='"Liberation Sans", sans-serif' font-size="25.30" font-style="normal" font-weight="normal" fill="#000">0.65</text>
<line x1="499.60" y1="515.30" x2="499.60" y2="519.80" stroke="#000" stroke-width="1.50" />
<text transform="translate(597.31 533.60) scale(1.3000 1)" font-family='"Liberation Sans", sans-serif' font-size="25.30" font-style="normal" font-weight="normal" fill="#000">0.55</text>
<line x1="629.30" y1="515.30" x2="629.30" y2="519.80" stroke="#000" stroke-width="1.50" />
<text transform="translate(712.71 533.60) scale(1.3000 1)" font-family='"Liberation Sans", sans-serif' font-size="25.30" font-style="normal" font-weight="normal" fill="#000">0.45</text>
<line x1="744.70" y1="515.30" x2="744.70" y2="519.80" stroke="#000" stroke-width="1.50" />
<text transform="translate(821.51 533.60) scale(1.3000 1)" font-family='"Liberation Sans", sans-serif' font-size="25.30" font-style="normal" font-weight="normal" fill="#000">0.35</text>
<line x1="853.50" y1="515.30" x2="853.50" y2="519.80" stroke="#000" stroke-width="1.50" />
<text transform="translate(931.31 533.60) scale(1.3000 1)" font-family='"Liberation Sans", sans-serif' font-size="25.30" font-style="normal" font-weight="normal" fill="#000">0.25</text>
<line x1="963.30" y1="515.30" x2="963.30" y2="519.80" stroke="#000" stroke-width="1.50" />
<text transform="translate(1056.11 533.60) scale(1.3000 1)" font-family='"Liberation Sans", sans-serif' font-size="25.30" font-style="normal" font-weight="normal" fill="#000">0. 5</text>
<path transform="translate(1056.11 533.60) scale(1.3000 1) translate(21.10 0) scale(0.01235 -0.01235)" d="M585 0L585 1250L267 1025L267 1195L600 1425L766 1425L766 0Z" fill="#000"/>
<line x1="1088.10" y1="515.30" x2="1088.10" y2="519.80" stroke="#000" stroke-width="1.50" />
<text transform="translate(1190.78 533.60) scale(1.3000 1)" font-family='"Liberation Sans", sans-serif' font-size="25.30" font-style="normal" font-weight="normal" fill="#000">0.07</text>
<line x1="1222.60" y1="515.30" x2="1222.60" y2="519.80" stroke="#000" stroke-width="1.50" />
<text transform="translate(1300.36 533.60) scale(1.3000 1)" font-family='"Liberation Sans", sans-serif' font-size="25.30" font-style="normal" font-weight="normal" fill="#000">0.03</text>
<line x1="1332.30" y1="515.30" x2="1332.30" y2="519.80" stroke="#000" stroke-width="1.50" />
<text transform="translate(483.11 610.40) scale(1.3000 1)" font-family='"Liberation Sans", sans-serif' font-size="25.30" font-style="normal" font-weight="normal" fill="#000">0.85</text>
<line x1="515.10" y1="592.10" x2="515.10" y2="596.60" stroke="#000" stroke-width="1.50" />
<text transform="translate(710.31 610.40) scale(1.3000 1)" font-family='"Liberation Sans", sans-serif' font-size="25.30" font-style="normal" font-weight="normal" fill="#000">0.75</text>
<line x1="742.30" y1="592.10" x2="742.30" y2="596.60" stroke="#000" stroke-width="1.50" />
<text transform="translate(870.01 610.40) scale(1.3000 1)" font-family='"Liberation Sans", sans-serif' font-size="25.30" font-style="normal" font-weight="normal" fill="#000">0.65</text>
<line x1="902.00" y1="592.10" x2="902.00" y2="596.60" stroke="#000" stroke-width="1.50" />
<text transform="translate(1000.51 610.40) scale(1.3000 1)" font-family='"Liberation Sans", sans-serif' font-size="25.30" font-style="normal" font-weight="normal" fill="#000">0.55</text>
<line x1="1032.50" y1="592.10" x2="1032.50" y2="596.60" stroke="#000" stroke-width="1.50" />
<text transform="translate(1115.11 610.40) scale(1.3000 1)" font-family='"Liberation Sans", sans-serif' font-size="25.30" font-style="normal" font-weight="normal" fill="#000">0.45</text>
<line x1="1147.10" y1="592.10" x2="1147.10" y2="596.60" stroke="#000" stroke-width="1.50" />
<text transform="translate(1224.11 610.40) scale(1.3000 1)" font-family='"Liberation Sans", sans-serif' font-size="25.30" font-style="normal" font-weight="normal" fill="#000">0.35</text>
<line x1="1256.10" y1="592.10" x2="1256.10" y2="596.60" stroke="#000" stroke-width="1.50" />
<text transform="translate(1334.61 610.40) scale(1.3000 1)" font-family='"Liberation Sans", sans-serif' font-size="25.30" font-style="normal" font-weight="normal" fill="#000">0.25</text>
<line x1="1366.60" y1="592.10" x2="1366.60" y2="596.60" stroke="#000" stroke-width="1.50" />
<text transform="translate(291.55 687.50) scale(1.3000 1)" font-family='"Liberation Sans", sans-serif' font-size="25.30" font-style="normal" font-weight="normal" fill="#000">0.985</text>
<line x1="332.70" y1="669.20" x2="332.70" y2="673.70" stroke="#000" stroke-width="1.50" />
<text transform="translate(497.45 687.50) scale(1.3000 1)" font-family='"Liberation Sans", sans-serif' font-size="25.30" font-style="normal" font-weight="normal" fill="#000">0.975</text>
<line x1="538.60" y1="669.20" x2="538.60" y2="673.70" stroke="#000" stroke-width="1.50" />
<text transform="translate(633.25 687.50) scale(1.3000 1)" font-family='"Liberation Sans", sans-serif' font-size="25.30" font-style="normal" font-weight="normal" fill="#000">0.965</text>
<line x1="674.40" y1="669.20" x2="674.40" y2="673.70" stroke="#000" stroke-width="1.50" />
<text transform="translate(860.71 687.50) scale(1.3000 1)" font-family='"Liberation Sans", sans-serif' font-size="25.30" font-style="normal" font-weight="normal" fill="#000">0.94</text>
<line x1="892.90" y1="669.20" x2="892.90" y2="673.70" stroke="#000" stroke-width="1.50" />
<text transform="translate(1081.72 687.50) scale(1.3000 1)" font-family='"Liberation Sans", sans-serif' font-size="25.30" font-style="normal" font-weight="normal" fill="#000">0.9</text>
<line x1="1104.50" y1="669.20" x2="1104.50" y2="673.70" stroke="#000" stroke-width="1.50" />
<text transform="translate(1215.56 687.50) scale(1.3000 1)" font-family='"Liberation Sans", sans-serif' font-size="25.30" font-style="normal" font-weight="normal" fill="#000">0.86</text>
<line x1="1247.50" y1="669.20" x2="1247.50" y2="673.70" stroke="#000" stroke-width="1.50" />
<text transform="translate(1324.08 687.50) scale(1.3000 1)" font-family='"Liberation Sans", sans-serif' font-size="25.30" font-style="normal" font-weight="normal" fill="#000">0.82</text>
<line x1="1355.90" y1="669.20" x2="1355.90" y2="673.70" stroke="#000" stroke-width="1.50" />
<line x1="456.00" y1="294.40" x2="884.00" y2="294.40" stroke="#adadad" stroke-width="1.80" />
<rect x="355" y="266" width="100.2" height="56.7" fill="#b2e9df" stroke="#0000ff" stroke-width="2.2"/>
<rect x="885" y="266.2" width="98.5" height="56" fill="#b2e9df" stroke="#0000ff" stroke-width="2.2"/>
<ellipse cx="934.00" cy="294.30" rx="3.00" ry="2.10" fill="none" stroke="#000" stroke-width="1.30"/>
<text transform="translate(382.01 266.30) scale(1.2983 1)" font-family='"Liberation Sans", sans-serif' font-size="22.76" font-style="normal" font-weight="normal" fill="#000">low</text>
<text transform="translate(905.39 335.50) scale(1.3251 1)" font-family='"Liberation Sans", sans-serif' font-size="22.76" font-style="normal" font-weight="normal" fill="#000">high</text>
<line x1="405.00" y1="19.24" x2="405.00" y2="290.00" stroke="#e80000" stroke-width="2.30" stroke-dasharray="0.01 7.15" stroke-linecap="round"/>
<line x1="945.60" y1="21.12" x2="945.60" y2="98.00" stroke="#e80000" stroke-width="2.30" stroke-dasharray="0.01 7.15" stroke-linecap="round"/>
<line x1="1168.10" y1="23.78" x2="1168.10" y2="194.00" stroke="#e80000" stroke-width="2.30" stroke-dasharray="0.01 7.15" stroke-linecap="round"/>
<ellipse cx="405.00" cy="15.40" rx="9.10" ry="7.10" fill="#ff0000" stroke="none" stroke-width="0.00"/>
<ellipse cx="945.60" cy="15.40" rx="9.10" ry="7.10" fill="#ff0000" stroke="none" stroke-width="0.00"/>
<ellipse cx="1168.20" cy="15.40" rx="9.10" ry="7.10" fill="#ff0000" stroke="none" stroke-width="0.00"/>
<ellipse cx="945.60" cy="101.90" rx="9.10" ry="7.10" fill="#ff0000" stroke="none" stroke-width="0.00"/>
<ellipse cx="1168.00" cy="198.00" rx="9.10" ry="7.10" fill="#ff0000" stroke="none" stroke-width="0.00"/>
<ellipse cx="405.00" cy="294.50" rx="9.10" ry="7.10" fill="#ff0000" stroke="none" stroke-width="0.00"/>
<line x1="876.40" y1="438.70" x2="876.40" y2="668.00" stroke="#ff0000" stroke-width="2.20" />
<polygon points="862.7,438.2 876.5,427.6 890.2,438.2 876.5,448.6" fill="#ff0000"/>
<polygon points="861.2,504.8 891.8,504.8 876.5,524.1" fill="#ff0000"/>
<polygon points="861.2,581.5 891.8,581.5 876.5,600.8" fill="#ff0000"/>
<polygon points="861.2,658.2 891.8,658.2 876.5,677.5" fill="#ff0000"/>
<text transform="translate(852.72 438.70) scale(1.1602 1)" font-family='"Liberation Sans", sans-serif' font-size="26.81" font-style="italic" font-weight="normal" fill="#ff0000"> 42</text>
<path transform="translate(852.72 438.70) scale(1.1602 1) translate(0.00 0) scale(0.01309 -0.01309)" d="M412 0L650 1223L215 985L250 1165L701 1409L867 1409L593 0Z" fill="#ff0000"/>
<text transform="translate(774.00 507.50) scale(1.3711 1)" font-family='"Liberation Sans", sans-serif' font-size="23.94" font-style="italic" font-weight="normal" fill="#ff0000">0.329</text>
<text transform="translate(774.01 584.30) scale(1.3627 1)" font-family='"Liberation Sans", sans-serif' font-size="23.94" font-style="italic" font-weight="normal" fill="#ff0000">0.668</text>
<text transform="translate(774.01 661.20) scale(1.3669 1)" font-family='"Liberation Sans", sans-serif' font-size="23.94" font-style="italic" font-weight="normal" fill="#ff0000">0.942</text>
<text transform="translate(0.58 767.40) scale(0.9932 1)" font-family='"Liberation Serif", serif' font-size="36.31" font-style="normal" font-weight="normal" fill="#000">(B)</text>
<path d="M144.5 770.8V773.4M146.5 770.8V772.9M148.5 770.8V773.4M150.5 770.8V773.4M153.5 770.8V777.1M155.5 770.8V779.0M156.5 770.8V780.0M159.5 770.8V780.0M162.5 770.8V782.2M165.5 770.8V773.4M170.5 770.8V774.3M173.5 770.8V775.3M176.5 770.8V778.1M180.5 770.8V782.2M185.5 770.8V786.5M194.5 770.8V775.3M197.5 770.8V777.1M202.5 770.8V780.0M205.5 770.8V773.4M209.5 770.8V783.7M212.5 770.8V786.5M217.5 770.8V775.3M223.5 770.8V780.0M226.5 770.8V782.2M230.5 770.8V772.5M238.5 770.8V778.1M241.5 770.8V780.0M246.5 770.8V788.9M252.5 770.8V784.6M257.5 770.8V780.0M260.5 770.8V784.6M264.5 770.8V775.3M267.5 770.8V777.1M270.5 770.8V774.3M272.5 770.8V782.2M275.5 770.8V776.2M281.5 770.8V782.2M284.5 770.8V782.2M286.5 770.8V777.1M289.5 770.8V780.0M293.5 770.8V775.3M296.5 770.8V786.5M299.5 770.8V777.1M302.5 770.8V775.3M305.5 770.8V778.1M307.5 770.8V788.9M310.5 770.8V782.2M313.5 770.8V777.1M316.5 770.8V773.4M319.5 770.8V780.0M322.5 770.8V774.3M325.5 770.8V782.2M327.5 770.8V780.0M333.5 770.8V786.5M335.5 770.8V776.2M337.5 770.8V774.3M340.5 770.8V784.6M342.5 770.8V782.2M348.5 770.8V780.0M351.5 770.8V780.0M353.5 770.8V781.8M355.5 770.8V782.2M357.5 770.8V775.3M360.5 770.8V784.6M363.5 770.8V784.6M366.5 770.8V780.0M368.5 770.8V784.6M370.5 770.8V780.0M373.5 770.8V778.1M377.5 770.8V793.4M380.5 770.8V780.0M383.5 770.8V784.6M385.5 770.8V786.5M388.5 770.8V791.2M391.5 770.8V782.2M394.5 770.8V786.5M397.5 770.8V795.8M397.5 770.8V795.8M400.5 770.8V784.6M402.5 770.8V794.0M405.5 770.8V783.7M408.5 770.8V784.6M411.5 770.8V786.5M414.5 770.8V786.5M416.5 770.8V781.8M419.5 770.8V776.2M422.5 770.8V774.3M425.5 770.8V775.3M428.5 770.8V773.4M431.5 770.8V776.2M433.5 770.8V780.0M436.5 770.8V779.0M440.5 770.8V773.4M444.5 770.8V777.1M446.5 770.8V779.0M450.5 770.8V777.1M454.5 770.8V773.4M458.5 770.8V778.1M461.5 770.8V775.3M464.5 770.8V778.1M467.5 770.8V776.2M470.5 770.8V779.0M473.5 770.8V776.2M475.5 770.8V779.0M478.5 770.8V775.3M481.5 770.8V774.3M483.5 770.8V773.4M486.5 770.8V786.5M488.5 770.8V775.3M492.5 770.8V777.1M496.5 770.8V773.4M500.5 770.8V783.7M502.5 770.8V780.9M505.5 770.8V781.8M508.5 770.8V780.0M511.5 770.8V776.2M514.5 770.8V781.8M516.5 770.8V779.0M519.5 770.8V780.0M522.5 770.8V780.0M525.5 770.8V784.6M528.5 770.8V791.2M531.5 770.8V784.6M533.5 770.8V785.6M536.5 770.8V786.5M539.5 770.8V793.0M542.5 770.8V794.9M545.5 770.8V794.9M547.5 770.8V791.2M550.5 770.8V786.5M553.5 770.8V791.2M556.5 770.8V779.0M559.5 770.8V775.3M561.5 770.8V773.4M564.5 770.8V772.9M567.5 770.8V772.5M570.5 770.8V773.0M571.5 770.8V773.4M573.5 770.8V774.2M574.5 770.8V772.3M575.5 770.8V773.1M577.5 770.8V775.3M578.5 770.8V774.8M579.5 770.8V774.2M580.5 770.8V774.2M582.5 770.8V773.9M584.5 770.8V774.3M585.5 770.8V774.6M586.5 770.8V773.2M587.5 770.8V774.9M589.5 770.8V774.5M590.5 770.8V774.4M592.5 770.8V773.5M594.5 770.8V773.6M596.5 770.8V774.9M597.5 770.8V772.7M598.5 770.8V775.2M599.5 770.8V774.2M600.5 770.8V773.8M602.5 770.8V773.4M603.5 770.8V774.1M605.5 770.8V774.3M607.5 770.8V774.9M609.5 770.8V774.3M610.5 770.8V774.9M612.5 770.8V775.0M613.5 770.8V774.4M614.5 770.8V774.8M616.5 770.8V775.5M617.5 770.8V779.1M618.5 770.8V774.9M620.5 770.8V777.2M621.5 770.8V776.8M623.5 770.8V780.6M624.5 770.8V779.3M625.5 770.8V780.1M626.5 770.8V781.3M628.5 770.8V779.5M630.5 770.8V778.7M631.5 770.8V780.7M632.5 770.8V778.4M633.5 770.8V781.2M634.5 770.8V778.0M634.5 770.8V782.8" stroke="#000" stroke-width="1.25" fill="none"/>
<path d="M632.5 770.8 H643 V786 L641 789 L637 788 L634.5 784 L633 778 Z" fill="#000"/>
<line x1="220.17" y1="1193.02" x2="318.83" y2="1083.68" stroke="#ee2020" stroke-width="1.70" />
<line x1="336.63" y1="1066.19" x2="386.47" y2="1022.81" stroke="#ee2020" stroke-width="1.70" />
<line x1="390.87" y1="1023.52" x2="488.73" y2="947.38" stroke="#00008b" stroke-width="1.70" />
<line x1="506.42" y1="929.94" x2="533.88" y2="895.66" stroke="#00008b" stroke-width="1.70" />
<line x1="606.64" y1="849.30" x2="624.46" y2="816.30" stroke="#0e7a3e" stroke-width="1.70" />
<line x1="211.80" y1="1159.40" x2="211.80" y2="1225.10" stroke="#000" stroke-width="2.40" />
<line x1="206.70" y1="1159.40" x2="216.90" y2="1159.40" stroke="#000" stroke-width="2.60" />
<line x1="206.70" y1="1225.10" x2="216.90" y2="1225.10" stroke="#000" stroke-width="2.60" />
<line x1="327.20" y1="1018.20" x2="327.20" y2="1116.90" stroke="#000" stroke-width="2.40" />
<line x1="322.10" y1="1018.20" x2="332.30" y2="1018.20" stroke="#000" stroke-width="2.60" />
<line x1="322.10" y1="1116.90" x2="332.30" y2="1116.90" stroke="#000" stroke-width="2.60" />
<line x1="381.00" y1="981.50" x2="381.00" y2="1074.00" stroke="#000" stroke-width="2.40" />
<line x1="375.90" y1="981.50" x2="386.10" y2="981.50" stroke="#000" stroke-width="2.60" />
<line x1="375.90" y1="1074.00" x2="386.10" y2="1074.00" stroke="#000" stroke-width="2.60" />
<line x1="395.90" y1="959.70" x2="395.90" y2="1058.40" stroke="#000" stroke-width="2.40" />
<line x1="390.80" y1="959.70" x2="401.00" y2="959.70" stroke="#000" stroke-width="2.60" />
<line x1="390.80" y1="1058.40" x2="401.00" y2="1058.40" stroke="#000" stroke-width="2.60" />
<line x1="498.60" y1="891.70" x2="498.60" y2="979.30" stroke="#000" stroke-width="2.40" />
<line x1="493.50" y1="891.70" x2="503.70" y2="891.70" stroke="#000" stroke-width="2.60" />
<line x1="493.50" y1="979.30" x2="503.70" y2="979.30" stroke="#000" stroke-width="2.60" />
<line x1="541.70" y1="845.30" x2="541.70" y2="921.60" stroke="#000" stroke-width="2.40" />
<line x1="536.60" y1="845.30" x2="546.80" y2="845.30" stroke="#000" stroke-width="2.60" />
<line x1="536.60" y1="921.60" x2="546.80" y2="921.60" stroke="#000" stroke-width="2.60" />
<line x1="600.70" y1="827.60" x2="600.70" y2="889.80" stroke="#000" stroke-width="2.40" />
<line x1="595.60" y1="827.60" x2="605.80" y2="827.60" stroke="#000" stroke-width="2.60" />
<line x1="595.60" y1="889.80" x2="605.80" y2="889.80" stroke="#000" stroke-width="2.60" />
<line x1="630.40" y1="789.10" x2="630.40" y2="821.10" stroke="#000" stroke-width="2.40" />
<line x1="625.30" y1="789.10" x2="635.50" y2="789.10" stroke="#000" stroke-width="2.60" />
<line x1="625.30" y1="821.10" x2="635.50" y2="821.10" stroke="#000" stroke-width="2.60" />
<line x1="638.90" y1="785.00" x2="638.90" y2="800.60" stroke="#000" stroke-width="2.40" />
<line x1="633.80" y1="785.00" x2="644.00" y2="785.00" stroke="#000" stroke-width="2.60" />
<line x1="633.80" y1="800.60" x2="644.00" y2="800.60" stroke="#000" stroke-width="2.60" />
<ellipse cx="211.80" cy="1202.30" rx="5.60" ry="5.60" fill="#f03030" stroke="none" stroke-width="0.00"/>
<ellipse cx="327.20" cy="1074.40" rx="5.60" ry="5.60" fill="#f03030" stroke="none" stroke-width="0.00"/>
<ellipse cx="395.90" cy="1014.60" rx="5.60" ry="5.60" fill="#f03030" stroke="none" stroke-width="0.00"/>
<ellipse cx="381.00" cy="1031.20" rx="5.60" ry="5.60" fill="#00008b" stroke="none" stroke-width="0.00"/>
<ellipse cx="498.60" cy="939.70" rx="5.60" ry="5.60" fill="#00008b" stroke="none" stroke-width="0.00"/>
<ellipse cx="541.70" cy="885.90" rx="5.60" ry="5.60" fill="#00008b" stroke="none" stroke-width="0.00"/>
<ellipse cx="600.70" cy="860.30" rx="5.60" ry="5.60" fill="#12804a" stroke="none" stroke-width="0.00"/>
<ellipse cx="630.40" cy="805.30" rx="5.60" ry="5.60" fill="#12804a" stroke="none" stroke-width="0.00"/>
<ellipse cx="639.10" cy="793.60" rx="5.60" ry="5.60" fill="#12804a" stroke="none" stroke-width="0.00"/>
<path d="M205.9 1196.5L217.7 1208.3M205.9 1208.3L217.7 1196.5M321.3 1068.5L333.1 1080.3M321.3 1080.3L333.1 1068.5M375.1 1026.6L386.9 1038.4M375.1 1038.4L386.9 1026.6M390.0 1008.7L401.8 1020.5M390.0 1020.5L401.8 1008.7M492.7 934.6L504.5 946.4M492.7 946.4L504.5 934.6M535.8 881.1L547.6 892.9M535.8 892.9L547.6 881.1M594.8 856.3L606.6 868.1M594.8 868.1L606.6 856.3M624.5 801.2L636.3 813.0M624.5 813.0L636.3 801.2M633.2 787.7L645.0 799.5M633.2 799.5L645.0 787.7" stroke="#0000ff" stroke-width="2.1" fill="none"/>
<line x1="122.30" y1="1268.50" x2="678.00" y2="770.80" stroke="#ffffff" stroke-width="3.60" />
<line x1="122.30" y1="1268.50" x2="678.00" y2="770.80" stroke="#d3d3d3" stroke-width="1.60" />
<rect x="122.3" y="770.8" width="555.7" height="497.7" fill="none" stroke="#000" stroke-width="1.6"/>
<line x1="107.10" y1="1250.60" x2="122.30" y2="1250.60" stroke="#000" stroke-width="1.50" />
<text transform="translate(86.80 1267.88) scale(0.9900 1) rotate(-90)" font-family='"Liberation Sans", sans-serif' font-size="25.40" font-style="normal" font-weight="normal" fill="#000">0.0</text>
<line x1="107.10" y1="1158.30" x2="122.30" y2="1158.30" stroke="#000" stroke-width="1.50" />
<text transform="translate(86.80 1175.43) scale(0.9900 1) rotate(-90)" font-family='"Liberation Sans", sans-serif' font-size="25.40" font-style="normal" font-weight="normal" fill="#000">0.2</text>
<line x1="107.10" y1="1066.00" x2="122.30" y2="1066.00" stroke="#000" stroke-width="1.50" />
<text transform="translate(86.80 1083.41) scale(0.9900 1) rotate(-90)" font-family='"Liberation Sans", sans-serif' font-size="25.40" font-style="normal" font-weight="normal" fill="#000">0.4</text>
<line x1="107.10" y1="973.70" x2="122.30" y2="973.70" stroke="#000" stroke-width="1.50" />
<text transform="translate(86.80 990.92) scale(0.9900 1) rotate(-90)" font-family='"Liberation Sans", sans-serif' font-size="25.40" font-style="normal" font-weight="normal" fill="#000">0.6</text>
<line x1="107.10" y1="881.40" x2="122.30" y2="881.40" stroke="#000" stroke-width="1.50" />
<text transform="translate(86.80 898.62) scale(0.9900 1) rotate(-90)" font-family='"Liberation Sans", sans-serif' font-size="25.40" font-style="normal" font-weight="normal" fill="#000">0.8</text>
<line x1="107.10" y1="789.10" x2="122.30" y2="789.10" stroke="#000" stroke-width="1.50" />
<text transform="translate(86.80 806.83) scale(0.9900 1) rotate(-90)" font-family='"Liberation Sans", sans-serif' font-size="25.40" font-style="normal" font-weight="normal" fill="#000"> .0</text>
<path transform="translate(86.80 806.83) scale(0.9900 1) rotate(-90) translate(0.00 0) scale(0.01240 -0.01240)" d="M585 0L585 1250L267 1025L267 1195L600 1425L766 1425L766 0Z" fill="#000"/>
<line x1="142.90" y1="1268.50" x2="142.90" y2="1285.10" stroke="#000" stroke-width="1.50" />
<text transform="translate(125.66 1325.60) scale(0.9240 1)" font-family='"Liberation Sans", sans-serif' font-size="26.80" font-style="normal" font-weight="normal" fill="#000">0.0</text>
<line x1="245.80" y1="1268.50" x2="245.80" y2="1285.10" stroke="#000" stroke-width="1.50" />
<text transform="translate(228.71 1325.60) scale(0.9240 1)" font-family='"Liberation Sans", sans-serif' font-size="26.80" font-style="normal" font-weight="normal" fill="#000">0.2</text>
<line x1="348.70" y1="1268.50" x2="348.70" y2="1285.10" stroke="#000" stroke-width="1.50" />
<text transform="translate(331.33 1325.60) scale(0.9240 1)" font-family='"Liberation Sans", sans-serif' font-size="26.80" font-style="normal" font-weight="normal" fill="#000">0.4</text>
<line x1="451.60" y1="1268.50" x2="451.60" y2="1285.10" stroke="#000" stroke-width="1.50" />
<text transform="translate(434.42 1325.60) scale(0.9240 1)" font-family='"Liberation Sans", sans-serif' font-size="26.80" font-style="normal" font-weight="normal" fill="#000">0.6</text>
<line x1="554.50" y1="1268.50" x2="554.50" y2="1285.10" stroke="#000" stroke-width="1.50" />
<text transform="translate(537.32 1325.60) scale(0.9240 1)" font-family='"Liberation Sans", sans-serif' font-size="26.80" font-style="normal" font-weight="normal" fill="#000">0.8</text>
<line x1="657.40" y1="1268.50" x2="657.40" y2="1285.10" stroke="#000" stroke-width="1.50" />
<text transform="translate(639.73 1325.60) scale(0.9240 1)" font-family='"Liberation Sans", sans-serif' font-size="26.80" font-style="normal" font-weight="normal" fill="#000"> .0</text>
<path transform="translate(639.73 1325.60) scale(0.9240 1) translate(0.00 0) scale(0.01309 -0.01309)" d="M585 0L585 1250L267 1025L267 1195L600 1425L766 1425L766 0Z" fill="#000"/>
<text transform="translate(237.06 1389.00) scale(0.9635 1)" font-family='"Liberation Sans", sans-serif' font-size="25.66" font-style="normal" font-weight="normal" fill="#000">Nomogram−predicted OS (%)</text>
<text transform="translate(27.90 1123.26) scale(0.9234 1) rotate(-90)" font-family='"Liberation Sans", sans-serif' font-size="26.44" font-style="normal" font-weight="normal" fill="#000">Observed OS (%)</text>
<line x1="525.40" y1="1174.30" x2="569.10" y2="1174.30" stroke="#0e7a3e" stroke-width="2.60" stroke-linecap="round"/>
<text transform="translate(591.15 1183.90) scale(0.9052 1)" font-family='"Liberation Sans", sans-serif' font-size="27.22" font-style="normal" font-weight="normal" fill="#000"> −year</text>
<path transform="translate(591.15 1183.90) scale(0.9052 1) translate(0.00 0) scale(0.01329 -0.01329)" d="M585 0L585 1250L267 1025L267 1195L600 1425L766 1425L766 0Z" fill="#000"/>
<line x1="525.40" y1="1205.70" x2="569.10" y2="1205.70" stroke="#00008b" stroke-width="2.60" stroke-linecap="round"/>
<text transform="translate(592.09 1215.30) scale(0.8940 1)" font-family='"Liberation Sans", sans-serif' font-size="27.22" font-style="normal" font-weight="normal" fill="#000">3−year</text>
<line x1="525.40" y1="1237.00" x2="569.10" y2="1237.00" stroke="#ee2020" stroke-width="2.60" stroke-linecap="round"/>
<text transform="translate(592.03 1246.60) scale(0.8948 1)" font-family='"Liberation Sans", sans-serif' font-size="27.22" font-style="normal" font-weight="normal" fill="#000">5−year</text>
<text transform="translate(863.20 775.80) scale(1.0020 1)" font-family='"Liberation Serif", serif' font-size="35.59" font-style="normal" font-weight="normal" fill="#000">(C)</text>
<g fill="#bdbdbd"><circle cx="962.2" cy="1148.3" r="1.9"/><circle cx="978.3" cy="1148.3" r="1.9"/><circle cx="994.5" cy="1148.3" r="1.9"/><circle cx="1010.6" cy="1148.3" r="1.9"/><circle cx="1026.7" cy="1148.3" r="1.9"/><circle cx="1042.9" cy="1148.3" r="1.9"/><circle cx="1059.0" cy="1148.3" r="1.9"/><circle cx="1075.1" cy="1148.3" r="1.9"/><circle cx="1091.2" cy="1148.3" r="1.9"/><circle cx="1107.4" cy="1148.3" r="1.9"/><circle cx="1123.5" cy="1148.3" r="1.9"/><circle cx="1139.6" cy="1148.3" r="1.9"/><circle cx="1155.8" cy="1148.3" r="1.9"/><circle cx="1171.9" cy="1148.3" r="1.9"/><circle cx="1188.0" cy="1148.3" r="1.9"/><circle cx="1204.2" cy="1148.3" r="1.9"/><circle cx="1220.3" cy="1148.3" r="1.9"/><circle cx="1236.4" cy="1148.3" r="1.9"/><circle cx="1252.5" cy="1148.3" r="1.9"/><circle cx="1268.7" cy="1148.3" r="1.9"/><circle cx="1284.8" cy="1148.3" r="1.9"/><circle cx="1300.9" cy="1148.3" r="1.9"/><circle cx="1317.1" cy="1148.3" r="1.9"/><circle cx="1333.2" cy="1148.3" r="1.9"/><circle cx="1349.3" cy="1148.3" r="1.9"/><circle cx="1365.5" cy="1148.3" r="1.9"/><circle cx="1381.6" cy="1148.3" r="1.9"/><circle cx="1397.7" cy="1148.3" r="1.9"/><circle cx="1413.8" cy="1148.3" r="1.9"/><circle cx="1430.0" cy="1148.3" r="1.9"/><circle cx="1446.1" cy="1148.3" r="1.9"/><circle cx="1462.2" cy="1148.3" r="1.9"/><circle cx="1478.4" cy="1148.3" r="1.9"/><circle cx="1494.5" cy="1148.3" r="1.9"/></g>
<path d="M932.6 830.3 H946 V1253.7 H932.6" fill="none" stroke="#000" stroke-width="1.5"/>
<line x1="932.60" y1="1148.00" x2="946.00" y2="1148.00" stroke="#000" stroke-width="1.50" />
<line x1="932.60" y1="1042.25" x2="946.00" y2="1042.25" stroke="#000" stroke-width="1.50" />
<line x1="932.60" y1="936.50" x2="946.00" y2="936.50" stroke="#000" stroke-width="1.50" />
<path d="M966.4 1286.4 V1271.0 H1475.8 V1286.4" fill="none" stroke="#000" stroke-width="1.6"/>
<line x1="1068.28" y1="1271.00" x2="1068.28" y2="1286.40" stroke="#000" stroke-width="1.50" />
<line x1="1170.16" y1="1271.00" x2="1170.16" y2="1286.40" stroke="#000" stroke-width="1.50" />
<line x1="1272.04" y1="1271.00" x2="1272.04" y2="1286.40" stroke="#000" stroke-width="1.50" />
<line x1="1373.92" y1="1271.00" x2="1373.92" y2="1286.40" stroke="#000" stroke-width="1.50" />
<text transform="translate(915.30 1271.41) scale(0.9000 1) rotate(-90)" font-family='"Liberation Sans", sans-serif' font-size="24.90" font-style="normal" font-weight="normal" fill="#000">0.4</text>
<text transform="translate(915.30 1165.51) scale(0.9000 1) rotate(-90)" font-family='"Liberation Sans", sans-serif' font-size="24.90" font-style="normal" font-weight="normal" fill="#000">0.5</text>
<text transform="translate(915.30 1059.72) scale(0.9000 1) rotate(-90)" font-family='"Liberation Sans", sans-serif' font-size="24.90" font-style="normal" font-weight="normal" fill="#000">0.6</text>
<text transform="translate(915.30 953.88) scale(0.9000 1) rotate(-90)" font-family='"Liberation Sans", sans-serif' font-size="24.90" font-style="normal" font-weight="normal" fill="#000">0.7</text>
<text transform="translate(915.30 848.22) scale(0.9000 1) rotate(-90)" font-family='"Liberation Sans", sans-serif' font-size="24.90" font-style="normal" font-weight="normal" fill="#000">0.8</text>
<text transform="translate(960.33 1323.40) scale(0.9300 1)" font-family='"Liberation Sans", sans-serif' font-size="23.40" font-style="normal" font-weight="normal" fill="#000">0</text>
<text transform="translate(1062.24 1323.40) scale(0.9300 1)" font-family='"Liberation Sans", sans-serif' font-size="23.40" font-style="normal" font-weight="normal" fill="#000">2</text>
<text transform="translate(1164.18 1323.40) scale(0.9300 1)" font-family='"Liberation Sans", sans-serif' font-size="23.40" font-style="normal" font-weight="normal" fill="#000">4</text>
<text transform="translate(1265.92 1323.40) scale(0.9300 1)" font-family='"Liberation Sans", sans-serif' font-size="23.40" font-style="normal" font-weight="normal" fill="#000">6</text>
<text transform="translate(1367.88 1323.40) scale(0.9300 1)" font-family='"Liberation Sans", sans-serif' font-size="23.40" font-style="normal" font-weight="normal" fill="#000">8</text>
<text transform="translate(1463.31 1323.40) scale(0.9300 1)" font-family='"Liberation Sans", sans-serif' font-size="23.40" font-style="normal" font-weight="normal" fill="#000"> 0</text>
<path transform="translate(1463.31 1323.40) scale(0.9300 1) translate(0.00 0) scale(0.01143 -0.01143)" d="M585 0L585 1250L267 1025L267 1195L600 1425L766 1425L766 0Z" fill="#000"/>
<text transform="translate(1196.90 1381.10) scale(0.9567 1)" font-family='"Liberation Sans", sans-serif' font-size="23.17" font-style="normal" font-weight="normal" fill="#000">Time</text>
<text transform="translate(863.10 1146.30) scale(0.8869 1) rotate(-90)" font-family='"Liberation Sans", sans-serif' font-size="23.95" font-style="normal" font-weight="normal" fill="#000">Concordance index</text>
<polyline points="1017.3,940.9 1068.3,992.9 1119.2,1016.6 1170.2,1013.9 1221.1,1010.8 1272.0,1014.4 1323.0,1013.9 1373.9,1014.7 1424.9,1014.7 1475.8,1015.7" stroke="#dd1010" fill="none" stroke-width="3.00" stroke-linejoin="round" stroke-linecap="round"/>
<polyline points="1017.3,946.0 1068.3,1008.5 1119.2,1037.5 1170.2,1046.9 1221.1,1063.4 1272.0,1067.5 1323.0,1069.3 1373.9,1069.3 1424.9,1069.3 1475.8,1069.8" stroke="#70e014" fill="none" stroke-width="3.00" stroke-linejoin="round" stroke-linecap="round"/>
<polyline points="1017.3,1119.4 1068.3,1116.0 1119.2,1126.5 1170.2,1132.5 1221.1,1134.3 1272.0,1132.5 1323.0,1134.3 1373.9,1137.1 1424.9,1137.1 1475.8,1137.6" stroke="#18e0e4" fill="none" stroke-width="3.00" stroke-linejoin="round" stroke-linecap="round"/>
<line x1="1290.80" y1="838.50" x2="1330.70" y2="838.50" stroke="#dd1010" stroke-width="3.00" stroke-linecap="round"/>
<line x1="1290.80" y1="867.60" x2="1330.70" y2="867.60" stroke="#70e014" stroke-width="3.00" stroke-linecap="round"/>
<line x1="1290.80" y1="896.50" x2="1330.70" y2="896.50" stroke="#18e0e4" stroke-width="3.00" stroke-linecap="round"/>
<text transform="translate(1348.20 847.20) scale(0.9723 1)" font-family='"Liberation Sans", sans-serif' font-size="22.48" font-style="normal" font-weight="normal" fill="#000">Risk score</text>
<text transform="translate(1349.95 876.00) scale(0.9102 1)" font-family='"Liberation Sans", sans-serif' font-size="23.40" font-style="normal" font-weight="normal" fill="#000">Age</text>
<text transform="translate(1348.92 905.20) scale(0.9434 1)" font-family='"Liberation Sans", sans-serif' font-size="22.90" font-style="normal" font-weight="normal" fill="#000">Grade</text>
</svg></body></html>
